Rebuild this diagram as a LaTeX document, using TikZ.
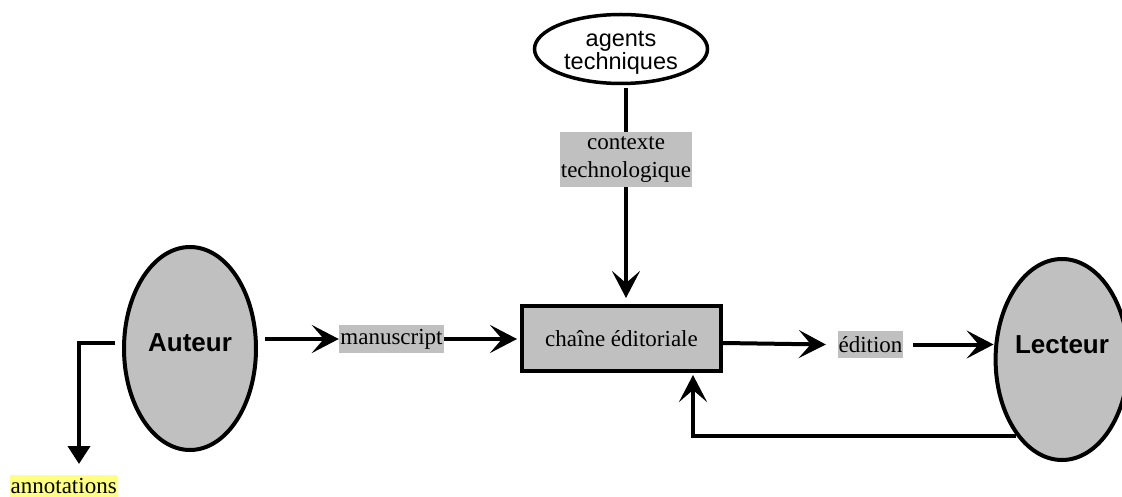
\documentclass[tikz,border=0pt]{standalone}
\usepackage{fontspec}
\setmainfont{Liberation Serif}
\newfontfamily\arialf{Liberation Sans}
\usetikzlibrary{arrows.meta,shapes.geometric}
\definecolor{lg}{HTML}{C0C0C0}
\definecolor{hl}{HTML}{FFFF80}
\tikzset{
  conn/.style={line width=4pt},
  arr/.style={conn,-{Stealth[length=27pt,width=28pt,inset=12pt]}},
  tri/.style={conn,-{Triangle[length=18pt,width=22pt]}},
  actor/.style={ellipse,draw,line width=4pt,fill=lg,inner sep=0pt,font=\arialf\bfseries\fontsize{26}{28}\selectfont},
  tag/.style={fill=lg,inner sep=0pt,font=\fontsize{23}{28}\selectfont,align=center},
}
\begin{document}
\begin{tikzpicture}[x=1pt,y=-1pt]
\useasboundingbox (0,0) rectangle (1122,497);
\clip (0,0) rectangle (1122,497);
% nodes
\node[ellipse,draw,line width=3.5pt,fill=white,minimum width=173pt,minimum height=69pt,inner sep=0pt,align=center,font=\arialf\fontsize{23.5}{25}\selectfont] (agents) at (621,49) {\raisebox{-21pt}[0pt][0pt]{\shortstack{agents\\[-1pt]techniques}}};
\node[tag,minimum width=132pt,minimum height=55pt] (ctx) at (626,159.5) {contexte\\technologique};
\node[draw,line width=4pt,fill=lg,minimum width=199pt,minimum height=65pt,inner sep=0pt,font=\fontsize{23}{28}\selectfont] (chain) at (621.5,338.5) {chaîne éditoriale};
\node[tag,minimum width=105pt,minimum height=28pt] (manu) at (391.5,339) {manuscript};
\node[tag,minimum width=65pt,minimum height=27pt] (edition) at (870.5,344.5) {édition};
\node[actor,minimum width=132pt,minimum height=203pt] (auteur) at (190,348.5) {\raisebox{11pt}{Auteur}};
\node[actor,minimum width=126pt,minimum height=201pt] (lecteur) at (1062,359.5) {\raisebox{29pt}{Lecteur}};
\node[fill=hl,inner xsep=0pt,inner ysep=0pt,minimum width=107pt,minimum height=22pt,font=\fontsize{23}{28}\selectfont,anchor=north west] (annot) at (10,475) {annotations};
\coordinate (annarrow) at (79,464);
% connectors
\draw[conn,shorten <=3pt] (agents.south -| ctx.north) -- (ctx.north);
\draw[arr,shorten >=6pt] (ctx.south) -- (chain.north -| ctx.south);
\draw[arr] ([xshift=7pt]auteur.east |- manu.west) -- (manu.west);
\draw[arr] (manu.east) -- ([xshift=-3pt]chain.west |- manu.east);
\draw[arr] ([yshift=-4.5pt]chain.east) -- ([xshift=-12pt]edition.west);
\draw[arr] ([xshift=10pt]edition.east) -- (lecteur.west |- edition.east);
\draw[arr] (lecteur.239) -| ([xshift=71.5pt,yshift=-2pt]chain.south);
\draw[tri] ([xshift=-7pt,yshift=5.5pt]auteur.west) -| (annarrow);
\end{tikzpicture}
\end{document}
